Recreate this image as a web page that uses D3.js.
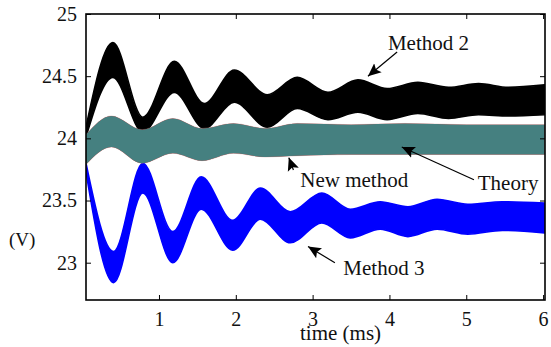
<!DOCTYPE html>
<html>
<head>
<meta charset="utf-8">
<script src="https://cdn.jsdelivr.net/npm/d3@7"></script>
<style>
  body { margin: 0; background: #fff; }
  svg { display: block; }
  text { font-family: "Liberation Serif", "Times New Roman", serif; }
</style>
</head>
<body>
<svg id="chart"></svg>
<script>
// envelopes (upper / lower) of the three ripple bands
const m2Time  = [0.05, 0.40, 0.79, 1.20, 1.59, 1.98, 2.41, 2.80, 3.20, 3.59, 3.97, 4.37, 4.77, 5.16, 5.55, 6.02];
const m2Upper = [24.09, 24.77, 24.17, 24.62, 24.28, 24.55, 24.35, 24.49, 24.37, 24.47, 24.40, 24.45, 24.41, 24.44, 24.41, 24.43];
const m2Lower = [24.01, 24.49, 24.05, 24.37, 24.08, 24.29, 24.09, 24.24, 24.15, 24.21, 24.15, 24.20, 24.16, 24.19, 24.18, 24.19];

const nmTime  = [0.05, 0.38, 0.78, 1.18, 1.56, 1.97, 2.38, 2.80, 3.50, 4.20, 5.00, 6.02];
const nmUpper = [24.03, 24.18, 24.07, 24.16, 24.08, 24.12, 24.08, 24.12, 24.11, 24.12, 24.11, 24.11];
const nmLower = [23.79, 23.93, 23.80, 23.88, 23.82, 23.88, 23.85, 23.86, 23.87, 23.87, 23.87, 23.87];

const m3Time  = [0.05, 0.41, 0.79, 1.18, 1.55, 1.96, 2.32, 2.71, 3.12, 3.49, 3.88, 4.24, 4.62, 5.02, 5.47, 6.02];
const m3Upper = [23.80, 23.09, 23.80, 23.25, 23.69, 23.34, 23.60, 23.41, 23.56, 23.43, 23.49, 23.45, 23.51, 23.47, 23.49, 23.48];
const m3Lower = [23.73, 22.84, 23.56, 23.00, 23.43, 23.10, 23.35, 23.16, 23.32, 23.20, 23.27, 23.21, 23.27, 23.23, 23.26, 23.24];

const xTicks = [1, 2, 3, 4, 5, 6];
const yTicks = [23, 23.5, 24, 24.5, 25];

// labels with arrows: text start, arrow tail, arrow tip (data units)
const notes = [
  {label: 'Method 2',   tx: 3.98, ty: 24.71, x1: 4.10, y1: 24.695, x2: 3.72, y2: 24.50},
  {label: 'New method', tx: 2.84, ty: 23.61, x1: 2.75, y1: 23.745, x2: 2.69, y2: 23.845},
  {label: 'Theory',     tx: 5.15, ty: 23.585, x1: 5.10, y1: 23.667, x2: 4.16, y2: 23.93},
  {label: 'Method 3',   tx: 3.40, ty: 22.90, x1: 3.29, y1: 23.00, x2: 2.94, y2: 23.13}
];

const W = 551, H = 347;
const margin = {top: 14, right: 6, bottom: 47, left: 86};
const width = W - margin.left - margin.right;
const height = H - margin.top - margin.bottom;

const svg = d3.select('#chart').attr('width', W).attr('height', H);
const g = svg.append('g').attr('transform', `translate(${margin.left},${margin.top})`);

const x = d3.scaleLinear().domain([0.05, 6.025]).range([0, width]);
const y = d3.scaleLinear().domain([22.7, 25]).range([height, 0]);

svg.append('defs').append('clipPath').attr('id', 'clip')
  .append('rect').attr('width', width).attr('height', height);

const band = (t, up, lo) => t.map((d, i) => ({t: d, up: up[i], lo: lo[i]}));
const area = d3.area()
  .curve(d3.curveMonotoneX)
  .x(d => x(d.t))
  .y0(d => y(d.lo))
  .y1(d => y(d.up));

const plot = g.append('g').attr('clip-path', 'url(#clip)');

// thin same-colour stroke stands in for the ripple fuzz on the band edges
plot.append('path').datum(band(m2Time, m2Upper, m2Lower))
  .attr('fill', '#000').attr('stroke', '#000').attr('stroke-width', 1.6)
  .attr('stroke-linejoin', 'round').attr('d', area);
plot.append('path').datum(band(m3Time, m3Upper, m3Lower))
  .attr('fill', '#0000ff').attr('stroke', '#0000ff').attr('stroke-width', 1.6)
  .attr('stroke-linejoin', 'round').attr('d', area);
// theory (red) lies under the new-method band
plot.append('path').datum(band(nmTime, nmUpper, nmLower))
  .attr('fill', '#d03030').attr('stroke', '#c07070').attr('stroke-opacity', 0.5)
  .attr('stroke-width', 0.6).attr('d', area);
plot.append('path').datum(band(nmTime, nmUpper, nmLower))
  .attr('fill', '#458080').attr('d', area);

// axes: ticks inside on all four sides
const tk = 5;
g.append('g').attr('transform', `translate(0,${height})`)
  .call(d3.axisBottom(x).tickValues(xTicks).tickSize(-tk).tickPadding(12).tickFormat(d3.format('d')))
  .call(a => a.select('.domain').remove());
g.append('g')
  .call(d3.axisTop(x).tickValues(xTicks).tickSize(-tk).tickFormat(''))
  .call(a => a.select('.domain').remove());
g.append('g')
  .call(d3.axisLeft(y).tickValues(yTicks).tickSize(-tk).tickPadding(9).tickFormat(d => d))
  .call(a => a.select('.domain').remove());
g.append('g').attr('transform', `translate(${width},0)`)
  .call(d3.axisRight(y).tickValues(yTicks).tickSize(-tk).tickFormat(''))
  .call(a => a.select('.domain').remove());

g.selectAll('.tick line').attr('stroke', '#000').attr('stroke-width', 1);
g.selectAll('.tick text')
  .attr('fill', '#111')
  .style('font-family', '"Liberation Serif", serif')
  .style('font-size', '20px');

g.append('rect').attr('width', width).attr('height', height)
  .attr('fill', 'none').attr('stroke', '#000').attr('stroke-width', 1.6);

// axis titles
svg.append('text').attr('x', 300).attr('y', 340)
  .style('font-size', '21px').attr('fill', '#111').text('time (ms)');
svg.append('text').attr('x', 9).attr('y', 246)
  .style('font-size', '19px').attr('fill', '#111').text('(V)');

// annotations
svg.select('defs').append('marker')
  .attr('id', 'head').attr('viewBox', '0 0 10 10')
  .attr('refX', 10).attr('refY', 5)
  .attr('markerWidth', 13).attr('markerHeight', 13)
  .attr('markerUnits', 'userSpaceOnUse')
  .attr('orient', 'auto')
  .append('path').attr('d', 'M0,0.5 L10,5 L0,9.5 L2,5 Z').attr('fill', '#000');

const ann = g.append('g');
ann.selectAll('line').data(notes).join('line')
  .attr('x1', d => x(d.x1)).attr('y1', d => y(d.y1))
  .attr('x2', d => x(d.x2)).attr('y2', d => y(d.y2))
  .attr('stroke', '#000').attr('stroke-width', 1.2)
  .attr('marker-end', 'url(#head)');
ann.selectAll('text').data(notes).join('text')
  .attr('x', d => x(d.tx)).attr('y', d => y(d.ty))
  .style('font-size', '21px').attr('fill', '#111')
  .text(d => d.label);
</script>
</body>
</html>
